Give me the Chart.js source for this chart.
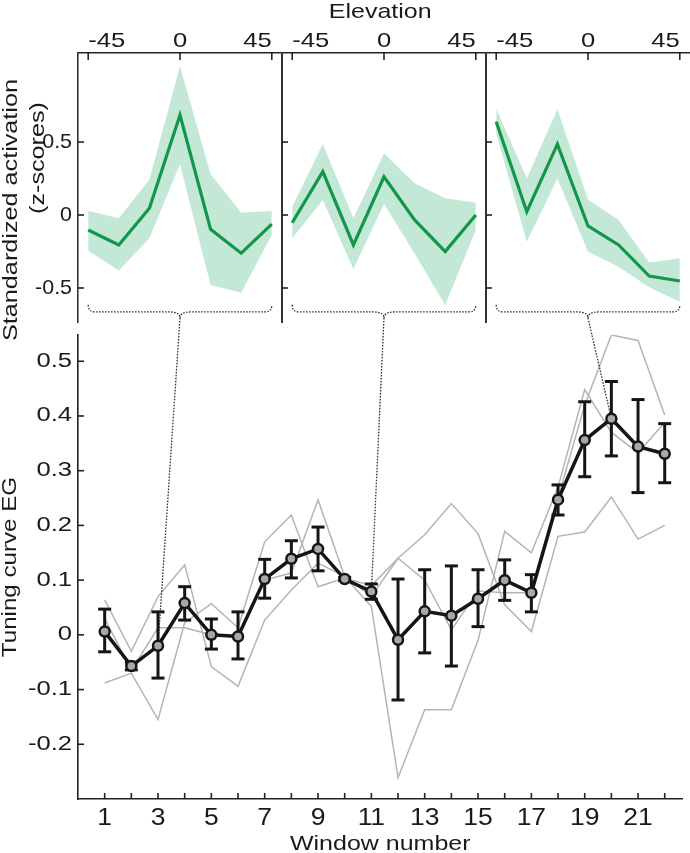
<!DOCTYPE html>
<html>
<head>
<meta charset="utf-8">
<script src="https://cdn.jsdelivr.net/npm/chart.js@4.4.1/dist/chart.umd.min.js"></script>
<style>
body { margin: 0; background: #fff; }
#wrap { position: relative; width: 690px; height: 853px; }
#wrap canvas { position: absolute; left: 0; top: 0; }
</style>
</head>
<body>
<div id="wrap">
<canvas id="bottom" width="690" height="853"></canvas>
<canvas id="p1" width="690" height="853"></canvas>
<canvas id="p2" width="690" height="853"></canvas>
<canvas id="p3" width="690" height="853"></canvas>
</div>
<script>
// top panels: z-scores per elevation
const elevation = [-45, -30, -15, 0, 15, 30, 45];
const elevTicks = [-45, 0, 45];
const zTicks = [-0.5, 0, 0.5];

const p1Mean  = [-0.103, -0.205, 0.046, 0.685, -0.098, -0.262, -0.062];
const p1Upper = [0.03, -0.023, 0.244, 1.02, 0.281, 0.016, 0.027];
const p1Lower = [-0.244, -0.381, -0.16, 0.349, -0.479, -0.532, -0.137];

const p2Mean  = [-0.053, 0.297, -0.205, 0.262, -0.034, -0.251, 0.0];
const p2Upper = [0.057, 0.486, -0.023, 0.422, 0.217, 0.114, 0.084];
const p2Lower = [-0.16, 0.103, -0.372, 0.075, -0.263, -0.616, -0.103];

const p3Mean  = [0.639, 0.023, 0.486, -0.075, -0.205, -0.418, -0.452];
const p3Upper = [0.73, 0.251, 0.724, 0.107, -0.034, -0.326, -0.297];
const p3Lower = [0.559, -0.183, 0.251, -0.251, -0.354, -0.495, -0.594];

// bottom: tuning curve EG per window
const windows = [1,2,3,4,5,6,7,8,9,10,11,12,13,14,15,16,17,18,19,20,21,22];
const windowLabels = ['1','','3','','5','','7','','9','','11','','13','','15','','17','','19','','21',''];
const egTicks = [-0.2, -0.1, 0, 0.1, 0.2, 0.3, 0.4, 0.5];
const egTickLabels = ['-0.2', '-0.1', '0', '0.1', '0.2', '0.3', '0.4', '0.5'];

const egMean = [0.006, -0.057, -0.02, 0.058, 0.0, -0.003, 0.102, 0.139, 0.157, 0.102, 0.079,
                -0.009, 0.043, 0.035, 0.066, 0.1, 0.077, 0.247, 0.356, 0.395, 0.344, 0.331];
const egHigh = [0.047, -0.05, 0.042, 0.088, 0.029, 0.042, 0.138, 0.172, 0.197, 0.105, 0.093,
                0.102, 0.119, 0.126, 0.119, 0.137, 0.11, 0.274, 0.426, 0.463, 0.43, 0.386];
const egLow  = [-0.031, -0.064, -0.079, 0.027, -0.026, -0.044, 0.067, 0.104, 0.117, 0.099, 0.065,
                -0.119, -0.033, -0.057, 0.015, 0.063, 0.042, 0.219, 0.289, 0.327, 0.26, 0.278];

const subjA = [0.064, -0.03, 0.07, 0.128, -0.058, -0.094, 0.027, 0.082, 0.131, 0.107, 0.07,
               0.14, 0.183, 0.24, 0.185, 0.055, 0.006, 0.18, 0.188, 0.252, 0.175, 0.2];
const subjB = [-0.088, -0.07, -0.155, 0.022, 0.057, 0.013, 0.17, 0.219, 0.088, 0.104, 0.09,
               0.14, 0.1, 0.009, 0.08, 0.077, 0.077, 0.25, 0.42, 0.548, 0.538, 0.402];
const subjC = [0.03, -0.065, 0.013, 0.013, 0.0, 0.0, 0.1, 0.113, 0.247, 0.106, 0.052,
               -0.261, -0.137, -0.137, -0.01, 0.189, 0.15, 0.27, 0.448, 0.37, 0.333, 0.388];

// which window each panel points to
const linkedWindows = [3, 11, 20];

const FONT = '"Liberation Sans", Arial, sans-serif';
const INK = '#1a1a1a';
const GREEN = '#12964a';
const BAND = '#c3e9d6';

// brace position in z units
const braceTop = -0.615, braceMid = -0.664, braceTip = -0.705;

const pts = (xs, ys) => xs.map((x, i) => ({x: x, y: ys[i]}));

function txt(ctx, s, x, y, size, align, baseline, sx, rot) {
    ctx.save();
    ctx.translate(x, y);
    if (rot) ctx.rotate(rot);
    ctx.scale(sx, 1);
    ctx.font = size + 'px ' + FONT;
    ctx.fillStyle = INK;
    ctx.textAlign = align;
    ctx.textBaseline = baseline;
    ctx.fillText(s, 0, 0);
    ctx.restore();
}

function seg(ctx, x1, y1, x2, y2) {
    ctx.beginPath();
    ctx.moveTo(x1, y1);
    ctx.lineTo(x2, y2);
    ctx.stroke();
}

const panelDecor = {
    id: 'panelDecor',
    afterDraw(chart) {
        const ctx = chart.ctx;
        const x = chart.scales.x, y = chart.scales.y;
        const area = chart.chartArea;
        ctx.save();
        ctx.strokeStyle = '#222';
        ctx.lineWidth = 1.6;
        elevTicks.forEach(v => {
            const px = x.getPixelForValue(v);
            seg(ctx, px, area.top, px, area.top + 7);
        });
        zTicks.forEach(v => {
            const py = y.getPixelForValue(v);
            seg(ctx, area.left, py, area.left + 6, py);
        });
        const aligns = ['left', 'center', 'right'];
        elevTicks.forEach((v, i) => {
            txt(ctx, String(v), x.getPixelForValue(v), 47, 21, aligns[i], 'alphabetic', 1.22);
        });

        // curly brace under the panel
        const xl = x.getPixelForValue(-45), xr = x.getPixelForValue(45), xc = x.getPixelForValue(0);
        const yt = y.getPixelForValue(braceTop), ym = y.getPixelForValue(braceMid), yk = y.getPixelForValue(braceTip);
        ctx.strokeStyle = '#333';
        ctx.lineWidth = 1.3;
        ctx.setLineDash([1.6, 1.4]);
        ctx.beginPath();
        ctx.moveTo(xl, yt);
        ctx.quadraticCurveTo(xl, ym, xl + 7, ym);
        ctx.lineTo(xc - 11, ym);
        ctx.quadraticCurveTo(xc, ym, xc, yk);
        ctx.quadraticCurveTo(xc, ym, xc + 11, ym);
        ctx.lineTo(xr - 7, ym);
        ctx.quadraticCurveTo(xr, ym, xr, yt);
        ctx.stroke();
        ctx.setLineDash([]);

        if (chart.canvas.id === 'p1') {
            zTicks.forEach(v => {
                txt(ctx, v === 0 ? '0' : String(v), 72, y.getPixelForValue(v), 21, 'right', 'middle', 1.02);
            });
            txt(ctx, 'Standardized activation', 17, 210, 21, 'center', 'alphabetic', 1.2, -Math.PI / 2);
            txt(ctx, '(z-scores)', 44, 158, 21, 'center', 'alphabetic', 1.2, -Math.PI / 2);
        }
        ctx.restore();
    }
};

function makePanel(id, mean, upper, lower, left, right) {
    return new Chart(document.getElementById(id), {
        type: 'line',
        data: {
            datasets: [
                {data: pts(elevation, mean), borderColor: GREEN, borderWidth: 3.2, pointRadius: 0, order: 0},
                {data: pts(elevation, upper), borderColor: 'rgba(0,0,0,0)', backgroundColor: BAND,
                 fill: '+1', pointRadius: 0, order: 1},
                {data: pts(elevation, lower), borderColor: 'rgba(0,0,0,0)', fill: false, pointRadius: 0, order: 2}
            ]
        },
        options: {
            animation: false,
            responsive: false,
            events: [],
            plugins: {legend: {display: false}, tooltip: {enabled: false}},
            layout: {padding: {left: left === 78 ? 0 : left, right: 690 - right, top: 0, bottom: 853 - 322}},
            scales: {
                x: {
                    type: 'linear', position: 'top', min: -50, max: 50,
                    afterFit(s) { s.height = 53; },
                    afterBuildTicks(s) { s.ticks = elevTicks.map(v => ({value: v})); },
                    ticks: {display: false},
                    grid: {display: false, drawTicks: false},
                    border: {color: '#222', width: 1.6}
                },
                y: {
                    min: -0.733, max: 1.11,
                    afterFit(s) { s.width = left === 78 ? 78 : 0; },
                    afterBuildTicks(s) { s.ticks = zTicks.map(v => ({value: v})); },
                    ticks: {display: false},
                    grid: {display: false, drawTicks: false},
                    border: {color: '#333', width: left === 78 ? 1.6 : 2}
                }
            }
        },
        plugins: [panelDecor]
    });
}

const panels = [
    makePanel('p1', p1Mean, p1Upper, p1Lower, 78, 282),
    makePanel('p2', p2Mean, p2Upper, p2Lower, 282, 486),
    makePanel('p3', p3Mean, p3Upper, p3Lower, 486, 690)
];

const bottomDecor = {
    id: 'bottomDecor',
    beforeDatasetDraw(chart, args) {
        if (args.index !== 0) return;
        const ctx = chart.ctx;
        const x = chart.scales.x, y = chart.scales.y;
        ctx.save();
        // dotted links from the braces
        ctx.strokeStyle = '#333';
        ctx.lineWidth = 1.3;
        ctx.setLineDash([1.6, 1.4]);
        panels.forEach((p, i) => {
            const w = linkedWindows[i];
            seg(ctx, p.scales.x.getPixelForValue(0), p.scales.y.getPixelForValue(braceTip),
                x.getPixelForValue(w), y.getPixelForValue(egMean[w - 1]));
        });
        ctx.setLineDash([]);
        // error bars
        ctx.strokeStyle = '#151515';
        ctx.lineWidth = 3;
        windows.forEach((w, i) => {
            const px = x.getPixelForValue(w);
            const hi = y.getPixelForValue(egHigh[i]), lo = y.getPixelForValue(egLow[i]);
            seg(ctx, px, hi, px, lo);
            seg(ctx, px - 6.5, hi, px + 6.5, hi);
            seg(ctx, px - 6.5, lo, px + 6.5, lo);
        });
        ctx.restore();
    },
    afterDraw(chart) {
        const ctx = chart.ctx;
        const x = chart.scales.x, y = chart.scales.y;
        const area = chart.chartArea;
        ctx.save();
        ctx.strokeStyle = '#222';
        ctx.lineWidth = 1.6;
        windows.forEach((w, i) => {
            const px = x.getPixelForValue(w);
            seg(ctx, px, area.bottom, px, area.bottom - 6);
            if (windowLabels[i]) txt(ctx, windowLabels[i], px, 825, 23, 'center', 'alphabetic', 1.15);
        });
        egTicks.forEach((v, i) => {
            const py = y.getPixelForValue(v);
            seg(ctx, area.left, py, area.left + 6, py);
            txt(ctx, egTickLabels[i], 72, py, 20, 'right', 'middle', 1.28);
        });
        const cx = (area.left + area.right) / 2;
        txt(ctx, 'Window number', cx, 850, 21, 'center', 'alphabetic', 1.19);
        txt(ctx, 'Elevation', cx, 18, 21, 'center', 'alphabetic', 1.19);
        txt(ctx, 'Tuning curve EG', 16, (area.top + area.bottom) / 2, 21, 'center', 'alphabetic', 1.15, -Math.PI / 2);
        ctx.restore();
    }
};

new Chart(document.getElementById('bottom'), {
    type: 'line',
    data: {
        datasets: [
            {data: pts(windows, egMean), borderColor: '#151515', borderWidth: 3.5,
             pointRadius: 5, pointBorderWidth: 2.5, pointBackgroundColor: '#a8a8a8',
             pointBorderColor: '#151515', order: 0},
            {data: pts(windows, subjA), borderColor: '#b4b4b4', borderWidth: 1.5, pointRadius: 0, order: 1},
            {data: pts(windows, subjB), borderColor: '#b4b4b4', borderWidth: 1.5, pointRadius: 0, order: 2},
            {data: pts(windows, subjC), borderColor: '#b4b4b4', borderWidth: 1.5, pointRadius: 0, order: 3}
        ]
    },
    options: {
        animation: false,
        responsive: false,
        events: [],
        plugins: {legend: {display: false}, tooltip: {enabled: false}},
        layout: {padding: {left: 0, right: 0, top: 335, bottom: 0}},
        scales: {
            x: {
                type: 'linear', min: 0, max: 22.667,
                afterFit(s) { s.height = 54; },
                afterBuildTicks(s) { s.ticks = windows.map(v => ({value: v})); },
                ticks: {display: false},
                grid: {display: false, drawTicks: false},
                border: {color: '#222', width: 1.6}
            },
            y: {
                min: -0.3, max: 0.548,
                afterFit(s) { s.width = 78; },
                afterBuildTicks(s) { s.ticks = egTicks.map(v => ({value: v})); },
                ticks: {display: false},
                grid: {display: false, drawTicks: false},
                border: {color: '#222', width: 1.6}
            }
        }
    },
    plugins: [bottomDecor]
});
</script>
</body>
</html>
